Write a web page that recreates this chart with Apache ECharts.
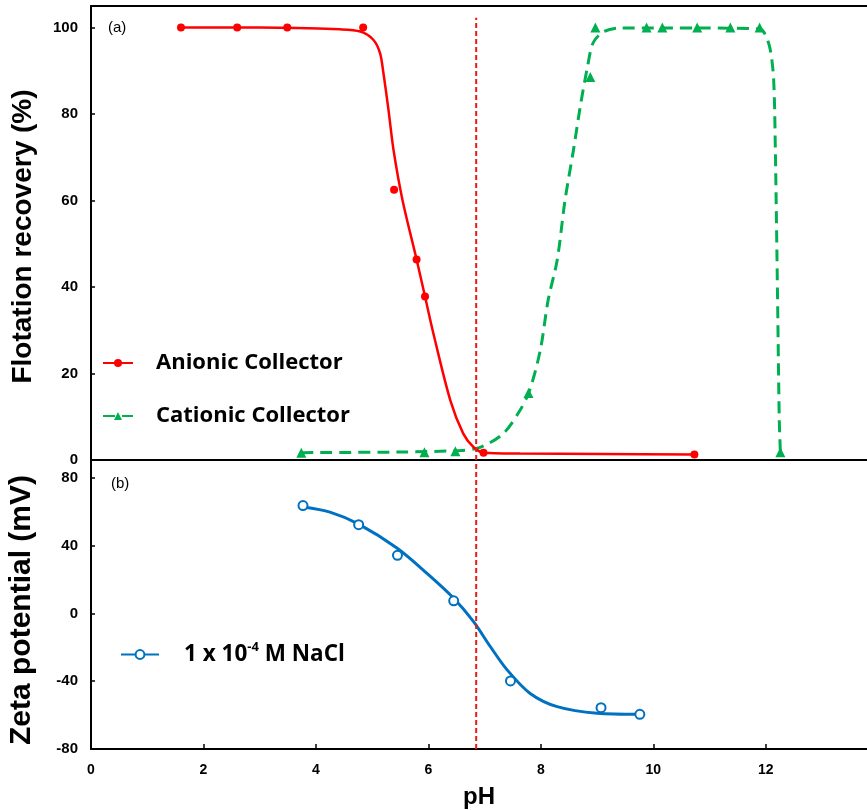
<!DOCTYPE html>
<html>
<head>
<meta charset="utf-8">
<title>Flotation recovery and zeta potential vs pH</title>
<script src="https://cdn.jsdelivr.net/npm/echarts@6/dist/echarts.min.js"></script>
<style>
  html, body { margin: 0; padding: 0; background: #fff; }
  #chart { width: 867px; height: 810px; }
</style>
</head>
<body>
<div id="chart"></div>
<script>
// Measured flotation recovery (%) vs pH
const anionicPoints = [[1.60,100],[2.60,100],[3.49,100],[4.84,100],[5.39,62.5],[5.79,46.4],[5.94,37.8],[6.98,1.7],[10.73,1.3]];
const cationicPoints = [[3.74,1.7],[5.93,1.8],[6.48,2.0],[7.78,15.5],[8.88,88.6],[8.97,100],[9.88,100],[10.16,100],[10.78,100],[11.37,100],[11.89,100],[12.26,1.8]];

// Fitted recovery curves
const anionicFit = [[1.60,100],[3.00,100],[4.43,99.6],[4.79,99.1],[5.02,97.2],[5.14,94.1],[5.20,89.5],[5.29,81.0],[5.38,71.7],[5.54,60.1],[5.79,46.4],[5.94,37.8],[6.09,29.2],[6.39,13.8],[6.62,6.1],[6.80,3.0],[6.98,1.7],[7.63,1.5],[9.06,1.4],[10.73,1.3]];
const cationicFit = [[3.74,1.7],[5.50,1.85],[6.57,2.2],[6.92,2.9],[7.33,6.1],[7.63,11.5],[7.80,16.1],[7.99,25.4],[8.13,37.0],[8.29,46.2],[8.43,60.1],[8.58,71.7],[8.70,81.7],[8.83,91.0],[8.93,96.5],[9.11,99.0],[9.41,99.9],[10.84,99.9],[11.90,99.7],[11.99,98.4],[12.08,94.9],[12.14,88.0],[12.17,71.7],[12.21,37.0],[12.24,9.2],[12.26,1.8]];

// Zeta potential (mV) vs pH in 1e-4 M NaCl
const zetaPoints = [[3.77,63.7],[4.76,52.4],[5.45,34.3],[6.45,7.5],[7.46,-39.8],[9.07,-55.6],[9.76,-59.5]];
const zetaFit = [[3.77,62.8],[4.25,59.8],[4.76,52.7],[5.44,38.6],[5.97,23.8],[6.45,9.0],[6.80,-4.7],[7.10,-19.5],[7.40,-33.3],[7.81,-47.2],[8.29,-55.0],[9.00,-58.9],[9.76,-59.5]];

// Isoelectric point marker
const iepPH = 6.85;
const iepTop = [[iepPH, 0], [iepPH, 102.3]];
const iepBottom = [[iepPH, -80], [iepPH, 90]];

const names = {
  anionic: 'Anionic Collector',
  cationic: 'Cationic Collector',
  nacl: '1 x 10-4 M NaCl'
};

const RED = '#ff0000', GREEN = '#00b050', BLUE = '#0070c0';
const xTickFont = { fontFamily: 'Liberation Sans, Arial, sans-serif', fontWeight: 'bold', fontSize: 14, color: '#000' };
const yTickFont = { fontFamily: 'Liberation Sans, Arial, sans-serif', fontWeight: 'bold', fontSize: 15, color: '#000' };
const titleFont = { fontFamily: 'Liberation Sans, Arial, sans-serif', fontWeight: 'bold', fontSize: 28, color: '#000' };
const legendFont = { fontFamily: 'Open Sans, Lato, sans-serif', fontWeight: 'bold', fontSize: 22, color: '#000' };

const chart = echarts.init(document.getElementById('chart'), null, { renderer: 'canvas' });

const axisLine = { show: true, onZero: false, lineStyle: { color: '#000', width: 2 } };
const tickStyle = { color: '#000', width: 1.5 };

chart.setOption({
  animation: false,
  backgroundColor: '#fff',
  grid: [
    { left: 91, right: 0, top: 6, height: 454, outerBoundsMode: 'none', containLabel: false },
    { left: 91, right: 0, top: 461, height: 288, outerBoundsMode: 'none', containLabel: false }
  ],
  xAxis: [
    { gridIndex: 0, type: 'value', min: 0, max: 13.8, interval: 2,
      axisLine: axisLine, axisTick: { show: false }, axisLabel: { show: false }, splitLine: { show: false } },
    { gridIndex: 1, type: 'value', min: 0, max: 13.8, interval: 2,
      name: 'pH', nameLocation: 'middle', nameGap: 36,
      nameTextStyle: Object.assign({}, titleFont, { fontSize: 24 }),
      axisLine: axisLine, axisTick: { show: true, inside: true, length: 5, lineStyle: tickStyle },
      axisLabel: Object.assign({ margin: 14, showMaxLabel: false }, xTickFont), splitLine: { show: false } },
    // top frame line of panel (a)
    { gridIndex: 0, type: 'value', position: 'top', min: 0, max: 13.8,
      axisLine: axisLine, axisTick: { show: false }, axisLabel: { show: false }, splitLine: { show: false } }
  ],
  yAxis: [
    { gridIndex: 0, type: 'value', min: 0, max: 105, interval: 20,
      name: 'Flotation recovery (%)', nameLocation: 'middle', nameGap: 54,
      nameTextStyle: Object.assign({}, titleFont, { padding: [0, 7, 0, 0] }),
      axisLine: axisLine, axisTick: { show: true, inside: true, length: 4, lineStyle: tickStyle },
      axisLabel: Object.assign({ margin: 13, showMaxLabel: false }, yTickFont), splitLine: { show: false } },
    { gridIndex: 1, type: 'value', min: -80, max: 90, interval: 40,
      name: 'Zeta potential (mV)', nameLocation: 'middle', nameGap: 54,
      nameTextStyle: Object.assign({}, titleFont, { fontSize: 30, padding: [0, 10, 0, 0] }),
      axisLine: axisLine, axisTick: { show: true, inside: true, length: 4, lineStyle: tickStyle },
      axisLabel: Object.assign({ margin: 13, showMaxLabel: false }, yTickFont), splitLine: { show: false } }
  ],
  legend: [
    { data: [names.anionic, names.cationic], orient: 'vertical', left: 97, top: 347,
      itemWidth: 30, itemHeight: 10, itemGap: 31, selectedMode: false,
      textStyle: Object.assign({ padding: [0, 0, 0, 18] }, legendFont) },
    { data: [names.nacl], orient: 'vertical', left: 115, top: 636,
      itemWidth: 38, itemHeight: 11, selectedMode: false,
      formatter: () => '{a|1 x 10}{s|-4}{a| M NaCl}',
      textStyle: Object.assign({ padding: [0, 0, 0, 20] }, legendFont, {
        rich: {
          a: Object.assign({}, legendFont, { fontSize: 22.5 }),
          s: Object.assign({}, legendFont, { fontSize: 13, verticalAlign: 'top', padding: [0, 0, 14, 0] })
        }
      }) }
  ],
  graphic: [
    { type: 'text', left: 108, top: 20, style: { text: '(a)', fontFamily: 'Liberation Sans, Arial, sans-serif', fontSize: 15, fill: '#000' } },
    { type: 'text', left: 111, top: 476, style: { text: '(b)', fontFamily: 'Liberation Sans, Arial, sans-serif', fontSize: 15, fill: '#000' } }
  ],
  series: [
    // fitted curves (carry the legend entries)
    { name: names.cationic, type: 'line', xAxisIndex: 0, yAxisIndex: 0, data: cationicFit,
      smooth: 0.3, symbol: 'triangle', showSymbol: false, symbolSize: 10,
      lineStyle: { color: GREEN, width: 3, type: [12, 7] }, itemStyle: { color: GREEN }, z: 2 },
    { name: names.anionic, type: 'line', xAxisIndex: 0, yAxisIndex: 0, data: anionicFit,
      smooth: 0.3, symbol: 'circle', showSymbol: false, symbolSize: 8,
      lineStyle: { color: RED, width: 2.5 }, itemStyle: { color: RED }, z: 3 },
    { name: names.nacl, type: 'line', xAxisIndex: 1, yAxisIndex: 1, data: zetaFit,
      smooth: 0.3, symbol: 'emptyCircle', showSymbol: false, symbolSize: 9,
      lineStyle: { color: BLUE, width: 3 }, itemStyle: { color: BLUE }, z: 3 },
    // measured points
    { name: names.cationic, type: 'scatter', xAxisIndex: 0, yAxisIndex: 0, data: cationicPoints,
      symbol: 'triangle', symbolSize: 10, itemStyle: { color: GREEN, opacity: 1 }, z: 4 },
    { name: names.anionic, type: 'scatter', xAxisIndex: 0, yAxisIndex: 0, data: anionicPoints,
      symbol: 'circle', symbolSize: 8, itemStyle: { color: RED, opacity: 1 }, z: 5 },
    { name: names.nacl, type: 'scatter', xAxisIndex: 1, yAxisIndex: 1, data: zetaPoints,
      symbol: 'circle', symbolSize: 9, itemStyle: { color: '#fff', borderColor: BLUE, borderWidth: 2, opacity: 1 }, z: 5 },
    // isoelectric point line through both panels
    { type: 'line', xAxisIndex: 0, yAxisIndex: 0, data: iepTop, symbol: 'none', silent: true,
      lineStyle: { color: '#e41b17', width: 2, type: [5, 3] }, z: 6 },
    { type: 'line', xAxisIndex: 1, yAxisIndex: 1, data: iepBottom, symbol: 'none', silent: true,
      lineStyle: { color: '#e41b17', width: 2, type: [5, 3] }, z: 6 }
  ]
});
</script>
</body>
</html>
